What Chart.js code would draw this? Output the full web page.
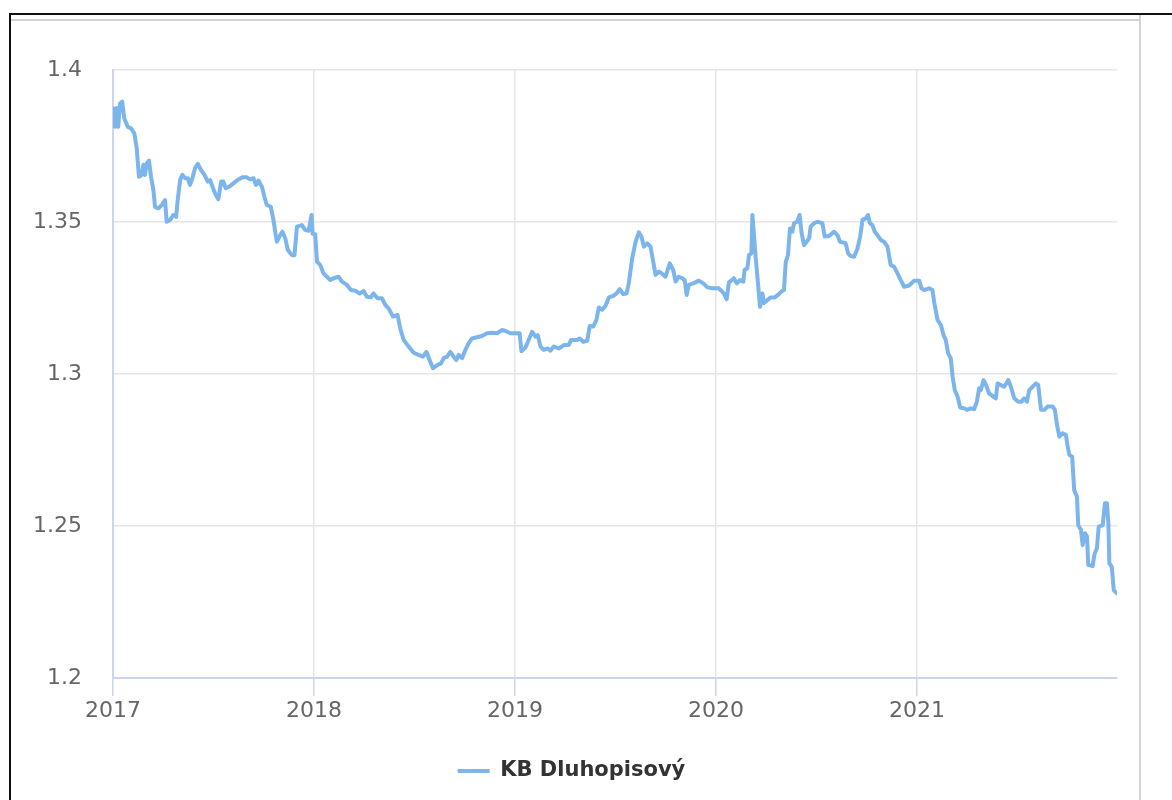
<!DOCTYPE html>
<html lang="cs">
<head>
<meta charset="UTF-8" />
<title>KB Dluhopisový</title>
<script src="https://cdn.jsdelivr.net/npm/chart.js@4.4.1/dist/chart.umd.min.js"></script>
<style>
  html, body { margin: 0; padding: 0; background: #fff; width: 1172px; height: 800px; overflow: hidden; }
  .blk { position: absolute; }
</style>
</head>
<body>
<!-- frame lines around the chart -->
<div class="blk" style="left:9px;top:13px;width:1163px;height:2px;background:#111;"></div>
<div class="blk" style="left:9px;top:13px;width:2px;height:787px;background:#111;"></div>
<div class="blk" style="left:11px;top:18.5px;width:1128px;height:2px;background:#d4d4d4;"></div>
<div class="blk" style="left:1139px;top:15px;width:2px;height:785px;background:#d4d4d4;"></div>

<div class="blk" style="left:12px;top:21px;width:1126px;height:779px;">
  <canvas id="chart"></canvas>
</div>

<script>
const seriesName = 'KB Dluhopisový';
const xTicks = [2017, 2018, 2019, 2020, 2021];
const yTicks = [1.2, 1.25, 1.3, 1.35, 1.4];

// decimal year of each point
const years = [
  2017.001, 2017.010, 2017.018, 2017.026, 2017.035, 2017.046, 2017.056, 2017.073, 2017.090, 2017.106,
  2017.118, 2017.129, 2017.143, 2017.151, 2017.159, 2017.168, 2017.179, 2017.189, 2017.201, 2017.209,
  2017.226, 2017.243, 2017.259, 2017.267, 2017.284, 2017.300, 2017.314, 2017.322, 2017.334, 2017.345,
  2017.359, 2017.372, 2017.383, 2017.395, 2017.408, 2017.422, 2017.438, 2017.455, 2017.472, 2017.483,
  2017.495, 2017.508, 2017.524, 2017.538, 2017.549, 2017.561, 2017.578, 2017.599, 2017.624, 2017.644,
  2017.666, 2017.682, 2017.699, 2017.711, 2017.724, 2017.741, 2017.753, 2017.765, 2017.785, 2017.798,
  2017.815, 2017.832, 2017.843, 2017.857, 2017.870, 2017.890, 2017.903, 2017.915, 2017.940, 2017.956,
  2017.973, 2017.988, 2017.993, 2018.006, 2018.015, 2018.031, 2018.047, 2018.064, 2018.081, 2018.097,
  2018.122, 2018.139, 2018.164, 2018.184, 2018.205, 2018.227, 2018.247, 2018.263, 2018.283, 2018.296,
  2018.316, 2018.338, 2018.355, 2018.371, 2018.393, 2018.416, 2018.429, 2018.446, 2018.471, 2018.496,
  2018.520, 2018.542, 2018.559, 2018.575, 2018.592, 2018.615, 2018.632, 2018.645, 2018.662, 2018.678,
  2018.695, 2018.708, 2018.720, 2018.737, 2018.753, 2018.769, 2018.786, 2018.811, 2018.836, 2018.861,
  2018.886, 2018.911, 2018.936, 2018.961, 2018.977, 2019.002, 2019.023, 2019.032, 2019.052, 2019.068,
  2019.085, 2019.102, 2019.113, 2019.127, 2019.143, 2019.163, 2019.176, 2019.193, 2019.218, 2019.243,
  2019.267, 2019.279, 2019.309, 2019.322, 2019.339, 2019.359, 2019.372, 2019.389, 2019.405, 2019.417,
  2019.434, 2019.450, 2019.467, 2019.489, 2019.505, 2019.521, 2019.538, 2019.555, 2019.566, 2019.583,
  2019.600, 2019.616, 2019.629, 2019.641, 2019.658, 2019.674, 2019.688, 2019.699, 2019.716, 2019.733,
  2019.749, 2019.770, 2019.787, 2019.799, 2019.815, 2019.832, 2019.844, 2019.854, 2019.865, 2019.887,
  2019.915, 2019.937, 2019.957, 2019.982, 2020.014, 2020.039, 2020.053, 2020.064, 2020.089, 2020.103,
  2020.119, 2020.136, 2020.142, 2020.156, 2020.164, 2020.176, 2020.181, 2020.189, 2020.197, 2020.209,
  2020.219, 2020.231, 2020.239, 2020.255, 2020.272, 2020.292, 2020.308, 2020.325, 2020.338, 2020.347,
  2020.358, 2020.368, 2020.380, 2020.388, 2020.405, 2020.416, 2020.426, 2020.438, 2020.451, 2020.463,
  2020.471, 2020.488, 2020.504, 2020.529, 2020.541, 2020.562, 2020.587, 2020.604, 2020.617, 2020.634,
  2020.645, 2020.657, 2020.670, 2020.687, 2020.704, 2020.717, 2020.729, 2020.745, 2020.756, 2020.766,
  2020.778, 2020.790, 2020.803, 2020.820, 2020.836, 2020.853, 2020.869, 2020.886, 2020.903, 2020.919,
  2020.936, 2020.961, 2020.986, 2021.011, 2021.022, 2021.036, 2021.060, 2021.077, 2021.085, 2021.102,
  2021.119, 2021.132, 2021.143, 2021.155, 2021.168, 2021.177, 2021.188, 2021.202, 2021.215, 2021.235,
  2021.248, 2021.268, 2021.284, 2021.298, 2021.309, 2021.318, 2021.331, 2021.343, 2021.359, 2021.381,
  2021.392, 2021.401, 2021.417, 2021.434, 2021.454, 2021.467, 2021.484, 2021.503, 2021.520, 2021.533,
  2021.547, 2021.558, 2021.575, 2021.592, 2021.603, 2021.617, 2021.633, 2021.650, 2021.675, 2021.686,
  2021.696, 2021.708, 2021.725, 2021.741, 2021.750, 2021.758, 2021.772, 2021.782, 2021.796, 2021.802,
  2021.816, 2021.824, 2021.836, 2021.846, 2021.852, 2021.874, 2021.882, 2021.895, 2021.904, 2021.924,
  2021.935, 2021.945, 2021.952, 2021.957, 2021.969, 2021.979, 2021.995
];

const values = [
  1.3874, 1.3813, 1.3875, 1.3813, 1.3890, 1.3896, 1.3841, 1.3813, 1.3808, 1.3792,
  1.3742, 1.3649, 1.3655, 1.3688, 1.3655, 1.3693, 1.3702, 1.3649, 1.3605, 1.3550,
  1.3545, 1.3556, 1.3572, 1.3501, 1.3507, 1.3523, 1.3517, 1.3572, 1.3638, 1.3655,
  1.3644, 1.3644, 1.3622, 1.3644, 1.3677, 1.3691, 1.3671, 1.3655, 1.3633, 1.3638,
  1.3616, 1.3594, 1.3575, 1.3633, 1.3633, 1.3611, 1.3616, 1.3627, 1.3640, 1.3647,
  1.3647, 1.3640, 1.3644, 1.3622, 1.3636, 1.3616, 1.3583, 1.3556, 1.3550, 1.3507,
  1.3435, 1.3457, 1.3468, 1.3446, 1.3408, 1.3391, 1.3391, 1.3485, 1.3490, 1.3474,
  1.3471, 1.3523, 1.3461, 1.3460, 1.3369, 1.3359, 1.3331, 1.3320, 1.3309, 1.3315,
  1.3320, 1.3304, 1.3293, 1.3276, 1.3274, 1.3265, 1.3273, 1.3254, 1.3252, 1.3265,
  1.3249, 1.3249, 1.3227, 1.3216, 1.3189, 1.3194, 1.3150, 1.3112, 1.3090, 1.3070,
  1.3063, 1.3057, 1.3073, 1.3046, 1.3019, 1.3030, 1.3035, 1.3052, 1.3057, 1.3073,
  1.3057, 1.3046, 1.3063, 1.3052, 1.3079, 1.3101, 1.3117, 1.3121, 1.3125, 1.3134,
  1.3136, 1.3134, 1.3145, 1.3139, 1.3134, 1.3134, 1.3134, 1.3075, 1.3087, 1.3112,
  1.3139, 1.3123, 1.3128, 1.3090, 1.3079, 1.3084, 1.3077, 1.3090, 1.3084, 1.3095,
  1.3095, 1.3112, 1.3112, 1.3117, 1.3106, 1.3109, 1.3158, 1.3156, 1.3178, 1.3219,
  1.3211, 1.3224, 1.3252, 1.3257, 1.3265, 1.3279, 1.3263, 1.3265, 1.3298, 1.3381,
  1.3435, 1.3466, 1.3452, 1.3419, 1.3430, 1.3419, 1.3369, 1.3326, 1.3337, 1.3329,
  1.3320, 1.3364, 1.3342, 1.3304, 1.3320, 1.3315, 1.3309, 1.3260, 1.3293, 1.3298,
  1.3307, 1.3298, 1.3285, 1.3282, 1.3282, 1.3265, 1.3246, 1.3301, 1.3315, 1.3298,
  1.3309, 1.3304, 1.3342, 1.3348, 1.3391, 1.3397, 1.3523, 1.3457, 1.3386, 1.3298,
  1.3221, 1.3265, 1.3233, 1.3243, 1.3252, 1.3252, 1.3260, 1.3271, 1.3276, 1.3369,
  1.3391, 1.3479, 1.3468, 1.3496, 1.3501, 1.3523, 1.3463, 1.3424, 1.3435, 1.3446,
  1.3485, 1.3496, 1.3501, 1.3496, 1.3452, 1.3454, 1.3468, 1.3457, 1.3435, 1.3432,
  1.3430, 1.3397, 1.3388, 1.3386, 1.3413, 1.3452, 1.3507, 1.3512, 1.3523, 1.3496,
  1.3490, 1.3468, 1.3457, 1.3441, 1.3435, 1.3419, 1.3359, 1.3353, 1.3331, 1.3309,
  1.3287, 1.3291, 1.3307, 1.3307, 1.3282, 1.3276, 1.3282, 1.3276, 1.3238, 1.3178,
  1.3161, 1.3128, 1.3112, 1.3068, 1.3052, 1.2991, 1.2947, 1.2925, 1.2890, 1.2887,
  1.2882, 1.2887, 1.2884, 1.2909, 1.2953, 1.2947, 1.2980, 1.2964, 1.2936, 1.2925,
  1.2920, 1.2969, 1.2964, 1.2958, 1.2980, 1.2958, 1.2920, 1.2909, 1.2909, 1.2920,
  1.2909, 1.2947, 1.2958, 1.2969, 1.2964, 1.2882, 1.2882, 1.2893, 1.2893, 1.2882,
  1.2835, 1.2794, 1.2805, 1.2799, 1.2760, 1.2734, 1.2728, 1.2618, 1.2596, 1.2503,
  1.2487, 1.2437, 1.2476, 1.2465, 1.2372, 1.2368, 1.2405, 1.2427, 1.2498, 1.2503,
  1.2575, 1.2575, 1.2509, 1.2377, 1.2366, 1.2289, 1.2278
];

const tickFont = { family: '"DejaVu Sans", Verdana, sans-serif', size: 22 };

const ctx = document.getElementById('chart').getContext('2d');
new Chart(ctx, {
  type: 'line',
  data: {
    datasets: [{
      label: seriesName,
      data: years.map((x, i) => ({ x: x, y: values[i] })),
      borderColor: '#7cb5ec',
      backgroundColor: '#7cb5ec',
      borderWidth: 4,
      borderJoinStyle: 'round',
      borderCapStyle: 'round',
      pointRadius: 0,
      tension: 0,
      fill: false
    }]
  },
  options: {
    responsive: true,
    maintainAspectRatio: false,
    animation: false,
    layout: { padding: { left: 14, right: 21, top: 49, bottom: 8.5 } },
    plugins: {
      tooltip: { enabled: false },
      legend: {
        position: 'bottom',
        labels: {
          usePointStyle: true,
          pointStyle: 'line',
          pointStyleWidth: 32,
          padding: 10,
          color: '#333333',
          font: { family: '"DejaVu Sans", Verdana, sans-serif', size: 21, weight: 'bold' }
        }
      }
    },
    scales: {
      x: {
        type: 'linear',
        min: 2017,
        max: 2021.995,
        afterBuildTicks: s => { s.ticks = xTicks.map(v => ({ value: v })); },
        afterFit: s => { s.height = 72.5; },
        ticks: {
          autoSkip: false,
          maxRotation: 0,
          padding: 2,
          color: '#666666',
          font: tickFont,
          callback: v => String(v)
        },
        grid: { color: '#e6e6e6', lineWidth: 1.5, tickColor: '#ccd6eb', tickLength: 18 },
        border: { color: '#ccd6eb', width: 2 }
      },
      y: {
        min: 1.2,
        max: 1.4,
        afterBuildTicks: s => { s.ticks = yTicks.map(v => ({ value: v })); },
        afterFit: s => { s.width = 87; },
        ticks: {
          padding: 31,
          color: '#666666',
          font: tickFont,
          callback: v => String(Math.round(v * 100) / 100)
        },
        grid: { color: '#e6e6e6', lineWidth: 1.5, drawTicks: false },
        border: { color: '#ccd6eb', width: 2 }
      }
    }
  }
});
</script>
</body>
</html>
